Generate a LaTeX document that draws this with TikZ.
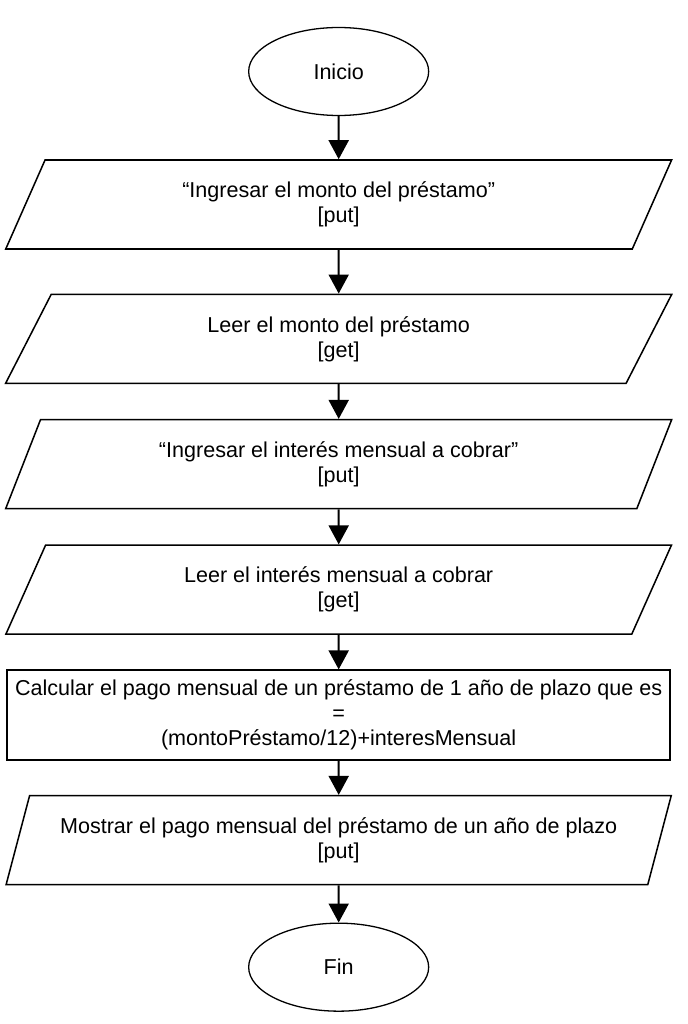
\documentclass[tikz,border=0pt]{standalone}
\usepackage{fontspec}
\setmainfont{Liberation Sans}
\usetikzlibrary{positioning,shapes.geometric,arrows.meta}
\tikzset{>={Triangle[length=0.57cm,width=0.6cm]}}
\tikzset{
  term/.style={draw, ellipse, line width=1.1pt, minimum width=5.4cm, minimum height=2.64cm, inner sep=0pt},
  io/.style={draw, trapezium, trapezium left angle=68, trapezium right angle=112, trapezium stretches=true, minimum width=20cm, minimum height=2.67cm, line width=1.3pt, align=center},
  proc/.style={draw, rectangle, minimum width=19.89cm, minimum height=2.7cm, line width=1.3pt, align=center, inner sep=0pt},
  flow/.style={->, line width=1.7pt},
  every node/.style={font=\fontsize{18.4}{21.3}\selectfont}
}

\begin{document}
\begin{tikzpicture}
      \useasboundingbox (0,0) rectangle (20.61,-30.72);
      \node[term] (n0) at (10.16,-2.145) {Inicio};
      \node[io, below of=n0, node distance=3.99cm] (n1) {“Ingresar el monto del préstamo”\\{}[put]};
      \node[io, below of=n1, node distance=4.03cm] (n2) {Leer el monto del préstamo\\{}[get]};
      \node[io, below of=n2, node distance=3.76cm] (n3) {“Ingresar el interés mensual a cobrar”\\{}[put]};
      \node[io, below of=n3, node distance=3.765cm] (n4) {Leer el interés mensual a cobrar\\{}[get]};
      \node[proc, below of=n4, node distance=3.765cm] (n5) {Calcular el pago mensual de un préstamo de 1 año de plazo que es\\=\\(montoPréstamo/12)+interesMensual};
      \node[io, below of=n5, node distance=3.75cm] (n6) {Mostrar el pago mensual del préstamo de un año de plazo\\{}[put]};
      \node[term, below of=n6, node distance=3.81cm] (n7) {Fin};
      \draw[flow] (n0) -- (n1);
      \draw[flow] (n1) -- (n2);
      \draw[flow] (n2) -- (n3);
      \draw[flow] (n3) -- (n4);
      \draw[flow] (n4) -- (n5);
      \draw[flow] (n5) -- (n6);
      \draw[flow] (n6) -- (n7);
\end{tikzpicture}
\end{document}
